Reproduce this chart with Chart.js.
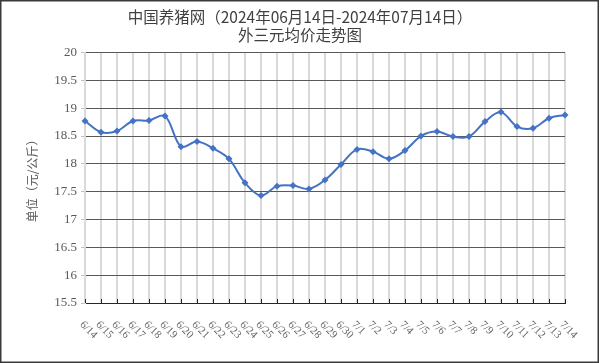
<!DOCTYPE html>
<html>
<head>
<meta charset="utf-8">
<script src="https://cdn.jsdelivr.net/npm/chart.js@4.4.1/dist/chart.umd.min.js"></script>
<style>
    body { margin: 0; background: #fff; }
    canvas { display: block; }
</style>
</head>
<body>
<canvas id="graficaPrecio" width="600" height="363"></canvas>
<script>
const fechas = ['6/14', '6/15', '6/16', '6/17', '6/18', '6/19', '6/20', '6/21', '6/22', '6/23',
    '6/24', '6/25', '6/26', '6/27', '6/28', '6/29', '6/30', '7/1', '7/2', '7/3', '7/4',
    '7/5', '7/6', '7/7', '7/8', '7/9', '7/10', '7/11', '7/12', '7/13', '7/14'];

const precios = [18.77, 18.57, 18.59, 18.77, 18.78, 18.86, 18.31, 18.40, 18.28, 18.09,
    17.66, 17.43, 17.60, 17.61, 17.55, 17.71, 17.99, 18.26, 18.22, 18.09, 18.24,
    18.50, 18.58, 18.49, 18.49, 18.76, 18.93, 18.67, 18.64, 18.82, 18.88];

const ejeY = [15.5, 16, 16.5, 17, 17.5, 18, 18.5, 19, 19.5, 20];

const titulo = ['中国养猪网（2024年06月14日-2024年07月14日）', '外三元均价走势图'];
const tituloEjeY = '单位（元/公斤）';

// x labels go down to the right, chart.js can't rotate that way, so draw them here
const etiquetasX = {
    id: 'etiquetasX',
    afterDraw(chart) {
        const ctx = chart.ctx;
        const x = chart.scales.x;
        const bottom = chart.chartArea.bottom;
        ctx.save();

        // small inward ticks on the bottom axis
        ctx.strokeStyle = '#262626';
        ctx.lineWidth = 1;
        fechas.forEach((f, i) => {
            const px = Math.round(x.getPixelForValue(i)) + 0.5;
            ctx.beginPath();
            ctx.moveTo(px, bottom);
            ctx.lineTo(px, bottom - 4);
            ctx.stroke();
        });

        ctx.fillStyle = '#666';
        ctx.font = '11px "Liberation Serif", serif';
        ctx.textAlign = 'left';
        ctx.textBaseline = 'middle';
        fechas.forEach((f, i) => {
            const px = x.getPixelForValue(i);
            ctx.save();
            ctx.translate(px - 3.5, bottom + 20);
            ctx.rotate(Math.PI / 4);
            ctx.fillText(f, 0, 0);
            ctx.restore();
        });

        // outer frame
        ctx.strokeStyle = '#3a3a3a';
        ctx.lineWidth = 1.5;
        ctx.strokeRect(0.75, 0.75, chart.width - 2.5, chart.height - 1.5);
        ctx.restore();
    }
};

const ctx = document.getElementById('graficaPrecio').getContext('2d');

new Chart(ctx, {
    type: 'line',
    data: {
        labels: fechas,
        datasets: [{
            data: precios,
            borderColor: '#4472c4',
            backgroundColor: '#4472c4',
            borderWidth: 2,
            tension: 0.35,
            pointStyle: 'rectRot',
            pointRadius: 3.5,
            pointBorderWidth: 0,
            fill: false
        }]
    },
    options: {
        responsive: false,
        animation: false,
        layout: { padding: 0 },
        plugins: {
            legend: { display: false },
            tooltip: { enabled: false },
            title: {
                display: true,
                text: titulo,
                color: '#404040',
                font: { family: '"Noto Sans CJK SC", sans-serif', size: 15.5, weight: 'normal', lineHeight: 1.18 },
                padding: { top: 8, bottom: 8 }
            }
        },
        scales: {
            x: {
                type: 'category',
                offset: false,
                grid: { color: '#d9d9d9', lineWidth: 2, drawTicks: false, offset: false },
                border: { display: true, color: '#262626', width: 1 },
                ticks: { display: false },
                afterFit(scale) { scale.height = 60; }
            },
            y: {
                min: ejeY[0],
                max: ejeY[ejeY.length - 1],
                afterBuildTicks(scale) { scale.ticks = ejeY.map(v => ({ value: v })); },
                grid: { color: '#595959', lineWidth: 1, tickColor: '#bfbfbf', tickLength: 4 },
                border: { display: true, color: '#d9d9d9', width: 2 },
                ticks: {
                    color: '#595959',
                    font: { family: '"Liberation Serif", serif', size: 13 },
                    padding: 4,
                    callback: v => String(v)
                },
                title: {
                    display: true,
                    text: tituloEjeY,
                    color: '#595959',
                    font: { family: '"Noto Sans CJK SC", sans-serif', size: 12 },
                    padding: { top: 25, bottom: 0 }
                },
                afterFit(scale) { scale.width = 85; }
            },
            // empty right side so the title stays centred on the whole picture
            margen: {
                position: 'right',
                display: true,
                min: 0,
                max: 1,
                grid: { display: false },
                border: { display: false },
                ticks: { display: false },
                afterFit(scale) { scale.width = 35; }
            }
        }
    },
    plugins: [etiquetasX]
});
</script>
</body>
</html>
